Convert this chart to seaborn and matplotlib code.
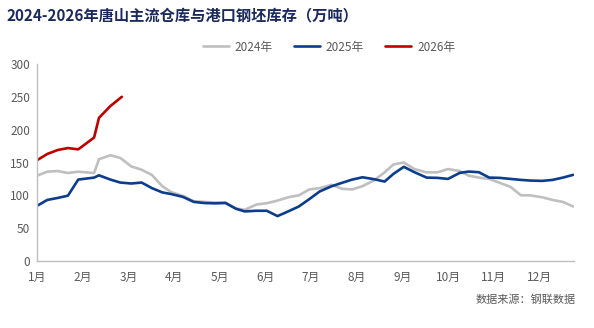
import matplotlib
matplotlib.use("Agg")
import matplotlib.pyplot as plt
import seaborn as sns
import pandas as pd
import calendar
from matplotlib.lines import Line2D

# ---- data (weekly observations, 万吨) ----
dates_2024 = ["01-01", "01-08", "01-15", "01-22", "01-29", "02-08", "02-11", "02-18", "02-24",
              "03-03", "03-10", "03-17", "03-24", "03-30", "04-07", "04-14", "04-21", "04-28",
              "05-05", "05-12", "05-18", "05-26", "06-02", "06-09", "06-16", "06-23", "06-30",
              "07-07", "07-15", "07-22", "07-29", "08-05", "08-13", "08-20", "08-26", "09-02",
              "09-09", "09-17", "09-24", "10-01", "10-09", "10-15", "10-22", "10-29", "11-05",
              "11-12", "11-19", "11-25", "12-03", "12-10", "12-17", "12-24"]
values_2024 = [130, 136, 137, 134, 136, 134, 155, 161, 157, 144, 139, 131, 114, 105, 99, 91,
               90, 89, 89, 80, 78, 86, 88, 92, 97, 100, 109, 111, 116, 110, 109, 114, 123,
               135, 147, 150, 140, 135, 135, 140, 137, 130, 127, 125, 119, 113, 100, 100, 97,
               93, 90, 83]

dates_2025 = dates_2024
values_2025 = [84, 93, 96, 99.5, 124, 127, 130.5, 124, 119.5, 118, 119.5, 111, 104.5, 102, 97.5,
               90, 88.3, 87.8, 88.3, 79.6, 75.5, 76.5, 76.5, 68.4, 75.5, 83, 94.4, 106, 113.8,
               119, 124, 127.5, 124.5, 121, 132.7, 143.4, 135.2, 127, 126.6, 125, 134.2, 136.2,
               135.2, 127, 126.6, 125, 123.5, 122.5, 122, 123.5, 127, 131.2]

dates_2026 = ["01-01", "01-08", "01-15", "01-22", "01-29", "02-08", "02-11", "02-18", "02-25"]
values_2026 = [153.5, 163, 169, 172, 170, 188, 218, 236, 250]

series_names = ["2024年", "2025年", "2026年"]
month_labels = [f"{m}月" for m in range(1, 13)]
y_ticks = [0, 50, 100, 150, 200, 250, 300]


def month_pos(md):
    m, d = (int(v) for v in md.split("-"))
    return (m - 1) + (d - 1) / calendar.monthrange(2025, m)[1]


rows = []
for name, ds, vs in zip(series_names, [dates_2024, dates_2025, dates_2026],
                        [values_2024, values_2025, values_2026]):
    for d, v in zip(ds, vs):
        rows.append({"pos": month_pos(d), "value": v, "series": name})
df = pd.DataFrame(rows)

# ---- style ----
sns.set_theme(style="white")
plt.rcParams["font.family"] = ["Noto Sans CJK SC", "DejaVu Sans"]

W, H = 594, 328
fig = plt.figure(figsize=(W / 100, H / 100), dpi=100)
ax = fig.add_axes([37 / W, (H - 261) / H, (574 - 37) / W, (261 - 64) / H])

palette = {"2024年": "#BFBFBF", "2025年": "#0B3D8C", "2026年": "#C00000"}
sns.lineplot(data=df, x="pos", y="value", hue="series", palette=palette,
             linewidth=1.9, ax=ax, legend=False, sort=True, estimator=None)

ax.set_xlim(0, 11.76)
ax.set_ylim(0, 300)
ax.set_xticks(range(12))
ax.set_xticklabels(month_labels)
ax.set_yticks(y_ticks)
ax.set_xlabel("")
ax.set_ylabel("")

axis_col = "#BFBFBF"
text_col = "#595959"
for s in ["top", "right"]:
    ax.spines[s].set_visible(False)
for s in ["left", "bottom"]:
    ax.spines[s].set_color(axis_col)
    ax.spines[s].set_linewidth(1.0)
ax.tick_params(axis="both", colors=axis_col, labelcolor=text_col, labelsize=8.5,
               length=4, width=1.0, direction="out")
ax.tick_params(axis="x", pad=3)
ax.tick_params(axis="y", pad=2, length=3)

# legend
handles = [Line2D([], [], color=palette[n], linewidth=1.9) for n in series_names]
leg = fig.legend(handles, series_names, loc="center", bbox_to_anchor=(329 / W, 1 - 47 / H),
                 ncol=3, frameon=False, fontsize=8.5, handlelength=2.2,
                 columnspacing=1.8, handletextpad=0.5)
for t in leg.get_texts():
    t.set_color(text_col)

fig.text(6 / W, 1 - 15 / H, "2024-2026年唐山主流仓库与港口钢坯库存（万吨）",
         fontsize=11, fontweight="bold", color="#1B2A5C", ha="left", va="center")
fig.text(576 / W, 1 - 300 / H, "数据来源：钢联数据", fontsize=8, color=text_col,
         ha="right", va="center")

fig.savefig("out.png", dpi=100)
